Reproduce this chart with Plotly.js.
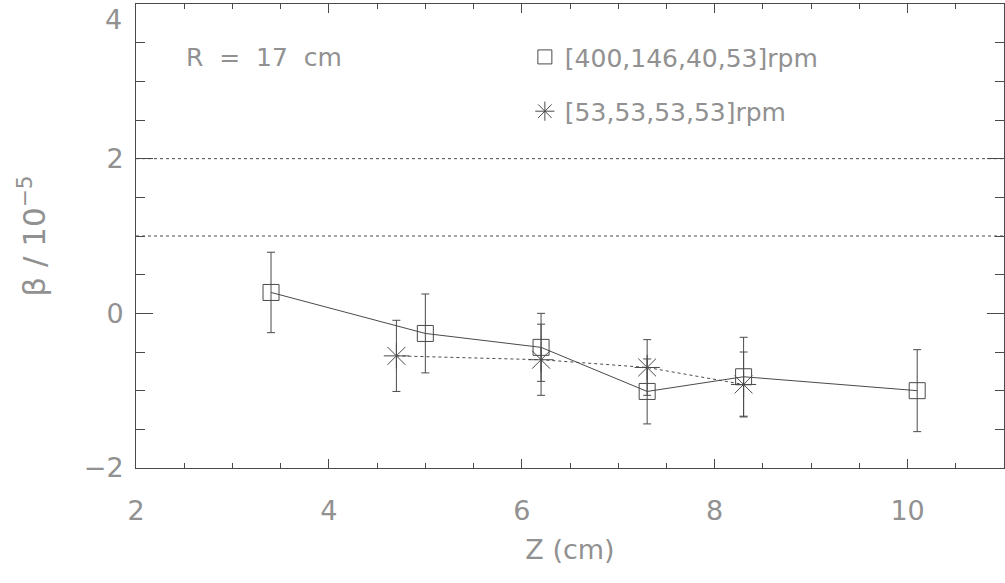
<!DOCTYPE html>
<html>
<head>
<meta charset="utf-8">
<script src="https://cdn.plot.ly/plotly-3.0.1.min.js"></script>
<style>html,body{margin:0;padding:0;background:#fff;}#chart{width:1005px;height:583px;}</style>
</head>
<body>
<div id="chart"></div>
<script>
// Series A: [400,146,40,53] rpm (squares, solid line)
const zA = [3.4, 5.0, 6.2, 7.3, 8.3, 10.1];
const betaA = [0.27, -0.26, -0.44, -1.01, -0.82, -1.00];
const errA = [0.52, 0.51, 0.44, 0.42, 0.51, 0.53];
// Series B: [53,53,53,53] rpm (asterisks, dotted line)
const zB = [4.7, 6.2, 7.3, 8.3];
const betaB = [-0.55, -0.60, -0.70, -0.92];
const errB = [0.46, 0.46, 0.36, 0.42];
// Reference levels (dotted horizontal lines)
const refLevels = [2, 1];
// Tick labels
const xTickVals = [2, 4, 6, 8, 10];
const xTickText = ["2", "4", "6", "8", "10"];
const yTickVals = [-2, 0, 2, 4];
const yTickText = ["\u22122", "0", "2", "4"];
const labelA = "[400,146,40,53]rpm";
const labelB = "[53,53,53,53]rpm";
const noteText = "R  =  17  cm";

const ink = "#4a4a4a";
const txt = "#919191";
const fontFam = "DejaVu Sans, sans-serif";

const traces = [
  {x: zA, y: betaA, type: "scatter", mode: "lines+markers", showlegend: false,
   line: {color: ink, width: 1},
   marker: {symbol: "square-open", size: 16, color: ink, line: {width: 1, color: ink}},
   error_y: {type: "data", array: errA, visible: true, color: ink, thickness: 1, width: 4}},
  {x: zB, y: betaB, type: "scatter", mode: "lines+markers", showlegend: false,
   line: {color: ink, width: 1, dash: "dot"},
   marker: {symbol: "asterisk-open", size: 21, color: ink, line: {width: 1, color: ink}},
   error_y: {type: "data", array: errB, visible: true, color: ink, thickness: 1, width: 4}},
  {x: [null], y: [null], type: "scatter", mode: "markers", name: labelA, legend: "legend",
   marker: {symbol: "square-open", size: 14, color: ink, line: {width: 1, color: ink}}},
  {x: [null], y: [null], type: "scatter", mode: "markers", name: labelB, legend: "legend2",
   marker: {symbol: "asterisk-open", size: 16, color: ink, line: {width: 1, color: ink}}}
];

const tickFont = {family: fontFam, size: 27, color: txt};

const axisCommon = {
  showgrid: false, zeroline: false, showline: true, linecolor: ink, linewidth: 1,
  mirror: "allticks", ticks: "inside", tickcolor: ink, tickwidth: 1,
  tickmode: "array", tickfont: tickFont
};

const legendCommon = {
  bgcolor: "rgba(0,0,0,0)", borderwidth: 0, xref: "paper", yref: "paper",
  xanchor: "left", yanchor: "top",
  font: {family: fontFam, size: 25, color: txt}, itemwidth: 30
};

// The topmost y label sits at the very edge of the figure; draw it as text just below the edge.
const topIdx = yTickVals.length - 1;
const yTickTextShown = yTickText.map((t, i) => (i === topIdx ? "" : t));

const layout = {
  width: 1005, height: 583,
  margin: {l: 136, r: 1, t: 4, b: 115},
  paper_bgcolor: "#fff", plot_bgcolor: "#fff",
  xaxis: Object.assign({}, axisCommon, {
    range: [2, 11], tickvals: xTickVals, ticktext: xTickText, ticklen: 9, ticklabelstandoff: 19,
    minor: {dtick: 0.5, tick0: 0, ticks: "inside", ticklen: 5, tickcolor: ink, showgrid: false},
    title: {text: "Z (cm)", font: {family: fontFam, size: 27, color: txt}, standoff: 14}
  }),
  yaxis: Object.assign({}, axisCommon, {
    range: [-2, 4], tickvals: yTickVals, ticktext: yTickTextShown, ticklen: 17, ticklabelstandoff: 6,
    minor: {dtick: 0.5, tick0: 0, ticks: "inside", ticklen: 9, tickcolor: ink, showgrid: false},
    title: {text: "β / 10<sup>−5</sup>", font: {family: fontFam, size: 31, color: txt}, standoff: 28}
  }),
  shapes: refLevels.map(v => ({type: "line", xref: "paper", x0: 0, x1: 1, yref: "y", y0: v, y1: v,
    line: {color: ink, width: 1, dash: "dot"}})),
  annotations: [
    {text: noteText, xref: "paper", yref: "paper", x: 0.147, y: 0.884,
     xanchor: "center", yanchor: "middle", showarrow: false,
     font: {family: fontFam, size: 25, color: txt}},
    {text: yTickText[topIdx], xref: "paper", yref: "y", x: 0, y: yTickVals[topIdx],
     xanchor: "right", yanchor: "top", xshift: -12, yshift: 2, showarrow: false,
     font: tickFont}
  ],
  legend: Object.assign({}, legendCommon, {x: 0.448, y: 0.935}),
  legend2: Object.assign({}, legendCommon, {x: 0.448, y: 0.818})
};

Plotly.newPlot("chart", traces, layout, {displayModeBar: false, staticPlot: true});
</script>
</body>
</html>
